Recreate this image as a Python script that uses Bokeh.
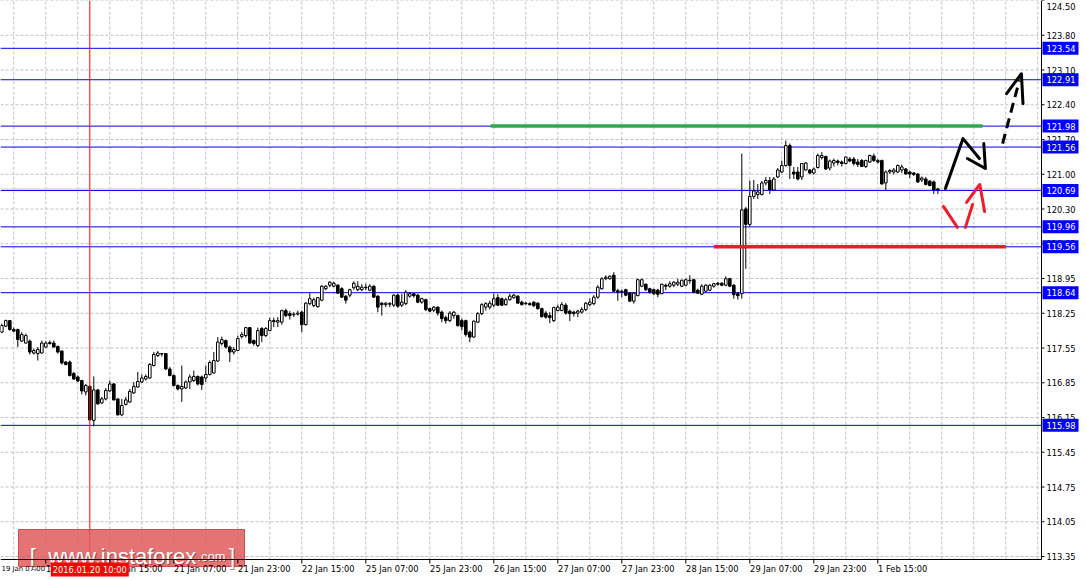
from bokeh.plotting import figure
from bokeh.models import Range1d, ColumnDataSource
from bokeh.core.properties import value
from bokeh.embed import file_html
from bokeh.resources import INLINE

# ---------------- data (USDJPY H1 candles, bar index 0..234) ----------------
opens = [117.85,117.97,118.08,117.90,117.90,117.67,117.63,117.67,117.43,117.42,
         117.43,117.55,117.64,117.63,117.56,117.47,117.25,117.25,117.02,116.95,
         116.88,116.65,116.76,116.08,116.69,116.43,116.51,116.67,116.81,116.51,
         116.19,116.40,116.45,116.63,116.75,116.85,116.91,116.93,117.18,117.38,
         117.42,117.42,117.11,116.98,116.78,116.71,116.73,116.85,116.88,116.96,
         116.95,116.93,117.00,117.03,117.27,117.62,117.68,117.55,117.45,117.48,
         117.76,117.78,117.94,117.68,117.58,117.92,117.78,117.88,118.08,118.05,
         118.05,118.28,118.22,118.20,118.21,118.25,118.00,118.42,118.38,118.36,
         118.49,118.72,118.79,118.77,118.79,118.72,118.57,118.59,118.74,118.70,
         118.70,118.75,118.69,118.77,118.57,118.43,118.40,118.42,118.39,118.59,
         118.39,118.42,118.57,118.62,118.59,118.45,118.50,118.32,118.29,118.35,
         118.25,118.14,118.08,118.18,118.18,118.08,118.08,117.85,117.75,118.05,
         118.22,118.35,118.35,118.39,118.54,118.52,118.40,118.50,118.54,118.57,
         118.45,118.43,118.42,118.45,118.43,118.32,118.23,118.18,118.08,118.28,
         118.28,118.39,118.27,118.25,118.23,118.25,118.30,118.40,118.42,118.55,
         118.72,118.92,118.92,118.99,118.68,118.67,118.70,118.63,118.47,118.58,
         118.77,118.81,118.72,118.70,118.69,118.62,118.79,118.77,118.79,118.81,
         118.77,118.79,118.89,118.90,118.69,118.61,118.67,118.69,118.77,118.83,
         118.83,118.79,118.92,118.79,118.62,118.62,120.32,120.01,120.57,120.61,
         120.61,120.84,120.89,120.70,120.96,121.06,121.19,121.59,121.06,121.06,
         120.96,121.10,121.10,121.04,121.15,121.35,121.37,121.14,121.24,121.28,
         121.26,121.23,121.32,121.32,121.26,121.29,121.17,121.26,121.38,121.29,
         121.29,120.84,121.06,121.06,121.06,121.10,121.12,121.06,121.04,121.02,
         120.90,120.92,120.88,120.86,120.72]
highs = [118.02,118.10,118.08,117.94,117.92,117.85,117.82,117.70,117.52,117.55,
         117.68,117.67,117.68,117.68,117.58,117.48,117.27,117.28,117.05,116.98,
         116.89,116.81,116.78,116.96,116.71,116.55,116.73,116.88,116.83,116.52,
         116.51,116.55,116.71,116.85,117.05,117.00,117.00,117.23,117.45,117.47,
         117.43,117.43,117.15,117.00,116.80,117.18,116.88,117.00,117.08,116.98,
         116.98,117.18,117.28,117.45,117.75,117.76,117.70,117.58,117.55,117.78,
         117.85,117.95,117.95,117.70,117.94,117.95,117.95,118.14,118.14,118.15,
         118.30,118.32,118.27,118.25,118.28,118.28,118.45,118.63,118.54,118.55,
         118.79,118.79,118.87,118.86,118.81,118.75,118.59,118.72,118.87,118.87,
         118.81,118.82,118.81,118.79,118.59,118.45,118.45,118.45,118.61,118.62,
         118.62,118.69,118.65,118.63,118.62,118.54,118.52,118.34,118.37,118.37,
         118.28,118.18,118.27,118.27,118.20,118.12,118.10,117.88,118.08,118.25,
         118.43,118.45,118.48,118.62,118.61,118.54,118.54,118.62,118.62,118.59,
         118.48,118.46,118.45,118.47,118.45,118.34,118.27,118.25,118.36,118.40,
         118.45,118.43,118.30,118.28,118.30,118.35,118.45,118.52,118.59,118.79,
         118.95,118.99,118.99,119.05,118.72,118.70,118.72,118.65,118.65,118.92,
         118.92,118.82,118.74,118.72,118.72,118.82,118.82,118.87,118.87,118.92,
         118.90,118.92,118.99,118.92,118.72,118.81,118.81,118.81,118.83,118.85,
         118.85,118.97,118.94,118.81,118.65,121.43,120.36,120.89,120.90,120.82,
         120.88,120.96,120.96,120.96,121.14,121.29,121.69,121.63,121.16,121.16,
         121.24,121.26,121.12,121.15,121.43,121.46,121.39,121.31,121.33,121.31,
         121.29,121.37,121.36,121.36,121.32,121.32,121.31,121.41,121.43,121.32,
         121.31,121.09,121.12,121.14,121.21,121.21,121.14,121.09,121.06,121.04,
         120.97,120.96,120.89,120.89,120.74]
lows = [117.83,117.95,117.88,117.85,117.55,117.65,117.62,117.40,117.40,117.28,
        117.42,117.54,117.60,117.54,117.42,117.20,117.18,116.96,116.89,116.85,
        116.60,116.58,116.08,115.96,116.40,116.41,116.48,116.65,116.48,116.18,
        116.17,116.38,116.43,116.61,116.73,116.83,116.88,116.91,117.16,117.35,
        117.36,117.09,116.96,116.76,116.68,116.45,116.71,116.71,116.85,116.78,
        116.69,116.85,116.98,117.02,117.25,117.58,117.52,117.25,117.40,117.47,
        117.72,117.74,117.62,117.58,117.55,117.65,117.75,117.87,117.95,117.95,
        118.00,118.15,118.10,118.15,118.18,117.85,117.98,118.39,118.35,118.34,
        118.47,118.69,118.75,118.75,118.62,118.54,118.42,118.55,118.70,118.67,
        118.67,118.69,118.67,118.54,118.25,118.18,118.35,118.35,118.35,118.34,
        118.35,118.39,118.54,118.54,118.43,118.42,118.27,118.25,118.25,118.18,
        118.05,118.02,118.05,118.12,117.96,117.88,117.76,117.65,117.74,118.03,
        118.19,118.28,118.30,118.35,118.37,118.37,118.38,118.48,118.52,118.42,
        118.38,118.39,118.38,118.35,118.30,118.14,118.12,118.03,118.05,118.27,
        118.27,118.20,118.07,118.16,118.15,118.22,118.27,118.37,118.39,118.52,
        118.70,118.89,118.90,118.65,118.48,118.55,118.57,118.45,118.42,118.57,
        118.75,118.67,118.62,118.59,118.55,118.61,118.69,118.74,118.75,118.77,
        118.75,118.77,118.82,118.63,118.62,118.59,118.65,118.67,118.74,118.78,
        118.77,118.77,118.75,118.52,118.50,118.52,119.12,119.97,120.52,120.52,
        120.59,120.79,120.62,120.68,120.94,121.04,121.17,120.92,120.92,120.89,
        120.90,121.09,121.01,121.01,121.13,121.31,121.10,121.09,121.17,121.19,
        121.17,121.21,121.26,121.19,121.16,121.16,121.14,121.24,121.26,121.23,
        120.81,120.70,121.02,121.01,121.04,121.04,121.01,120.94,120.98,120.84,
        120.86,120.79,120.77,120.62,120.62]
closes = [117.98,118.08,117.90,117.87,117.70,117.80,117.78,117.45,117.48,117.50,
          117.63,117.63,117.62,117.55,117.45,117.23,117.20,116.98,116.91,116.87,
          116.67,116.78,116.09,116.69,116.41,116.51,116.68,116.81,116.49,116.19,
          116.38,116.49,116.66,116.76,116.86,116.93,116.96,117.20,117.40,117.43,
          117.41,117.11,116.98,116.78,116.71,116.76,116.85,116.95,116.96,116.81,
          116.80,117.00,117.24,117.28,117.65,117.70,117.55,117.45,117.50,117.72,
          117.80,117.94,117.63,117.62,117.88,117.78,117.92,118.08,118.06,118.08,
          118.28,118.18,118.18,118.21,118.23,118.00,118.43,118.52,118.50,118.54,
          118.77,118.77,118.85,118.83,118.63,118.55,118.49,118.70,118.83,118.77,
          118.75,118.74,118.77,118.55,118.35,118.40,118.43,118.41,118.59,118.37,
          118.45,118.65,118.62,118.58,118.45,118.52,118.30,118.27,118.35,118.23,
          118.12,118.08,118.23,118.25,117.98,117.96,117.80,117.75,118.07,118.22,
          118.40,118.42,118.43,118.52,118.39,118.39,118.50,118.57,118.59,118.43,
          118.40,118.42,118.40,118.38,118.32,118.16,118.15,118.14,118.34,118.35,
          118.40,118.23,118.22,118.22,118.27,118.30,118.43,118.45,118.55,118.75,
          118.92,118.95,118.97,118.67,118.65,118.66,118.59,118.47,118.63,118.90,
          118.90,118.70,118.65,118.62,118.61,118.81,118.77,118.82,118.85,118.85,
          118.89,118.90,118.88,118.65,118.63,118.77,118.79,118.79,118.82,118.81,
          118.79,118.92,118.77,118.60,118.58,120.30,120.01,120.57,120.68,120.66,
          120.84,120.89,120.70,120.92,121.10,121.19,121.59,121.19,121.02,120.92,
          121.23,121.24,121.04,121.12,121.39,121.39,121.12,121.28,121.29,121.25,
          121.23,121.36,121.28,121.23,121.21,121.17,121.29,121.39,121.29,121.26,
          120.82,121.06,121.09,121.10,121.19,121.16,121.02,121.02,121.01,120.86,
          120.94,120.81,120.79,120.70,120.70]
bars = list(range(len(closes)))

# axis labels
x_tick_bars = [-5, 11, 27, 43, 59, 75, 91, 107, 123, 139, 155, 171, 187, 203, 219]
x_tick_labels = ["19 Jan 07:00", "19 Jan 23:00", "20 Jan 15:00", "21 Jan 07:00",
                 "21 Jan 23:00", "22 Jan 15:00", "25 Jan 07:00", "25 Jan 23:00",
                 "26 Jan 15:00", "27 Jan 07:00", "27 Jan 23:00", "28 Jan 15:00",
                 "29 Jan 07:00", "29 Jan 23:00", "1 Feb 15:00"]
y_tick_labels = ["113.35", "114.05", "114.75", "115.45", "116.15", "116.85", "117.55",
                 "118.25", "118.95", "119.65", "120.30", "121.00", "121.70", "122.40",
                 "123.10", "123.80", "124.50"]
y_tick_base = 113.35
y_tick_step = 0.6968

# horizontal levels
levels = [123.54, 122.91, 121.98, 121.56, 120.69, 119.96, 119.56, 118.64, 115.98]
crosshair_bar = 22
crosshair_text = "2016.01.20 10:00"

# drawn annotations (bar index, price)
green_x = [122.2, 245.2]
green_y = [121.98, 121.98]
red_x = [178.0, 251.0]
red_y = [119.56, 119.56]
blk1_x = [235.9, 240.3, 244.4]
blk1_y = [120.73, 121.73, 121.33]
blk1h_x = [241.4, 245.9, 245.5]
blk1h_y = [121.33, 121.13, 121.63]
blk2_x = [250.2, 254.4]
blk2_y = [121.63, 122.90]
blk2h_x = [251.2, 254.9, 255.3]
blk2h_y = [122.63, 123.03, 122.43]
red1_x = [235.4, 238.9]
red1_y = [120.37, 119.95]
red2_x = [240.9, 242.7]
red2_y = [119.95, 120.41]
red2h_x = [241.2, 244.5, 245.7]
red2h_y = [120.45, 120.81, 120.27]

# ---------------- geometry (one bar = 4 px, one price unit = 49.87 px) ----------------
BX = 0.25          # bars per pixel
PY = 1 / 49.87     # price per pixel
X0, X1 = -0.325, 271.175          # whole canvas in bar units
Y0, Y1 = 112.889, 124.499         # whole canvas in price units
XR = 259.925                      # right edge of chart area (price scale line)
YB = 113.29                       # bottom edge of chart area (time scale line)

FONT = value("DejaVu Sans")
FS = value("8.3px")

p = figure(width=1086, height=579, output_backend="svg", toolbar_location=None,
           x_range=Range1d(X0, X1), y_range=Range1d(Y0, Y1),
           x_axis_location=None, y_axis_location=None,
           min_border_left=0, min_border_top=0, min_border_right=0, min_border_bottom=0)
p.outline_line_color = None
p.background_fill_color = "white"
p.border_fill_color = "white"
p.xgrid.visible = False
p.ygrid.visible = False

GRID = dict(line_color="#c0c0c0", line_dash="3 2", line_width=1)
# vertical grid every 8 bars
gx = list(range(3, 260, 8))
p.segment(x0=gx, y0=[YB] * len(gx), x1=gx, y1=[Y1] * len(gx), **GRID)
# horizontal grid at price ticks
yt = [y_tick_base + j * y_tick_step for j in range(len(y_tick_labels))]
p.segment(x0=[X0] * len(yt), y0=yt, x1=[XR] * len(yt), y1=yt, **GRID)

# bid line and level lines
bid = closes[-1] + 0.02
p.segment(x0=[X0], y0=[bid], x1=[XR], y1=[bid], line_color="#c8c8c8", line_width=1)
p.segment(x0=[X0] * len(levels), y0=levels, x1=[XR] * len(levels), y1=levels,
          line_color="#0000ee", line_width=1)

# candles
src = ColumnDataSource(dict(
    x=bars,
    top=[max(o, c) for o, c in zip(opens, closes)],
    bottom=[min(o, c) for o, c in zip(opens, closes)],
    high=highs, low=lows,
    fill=["white" if c >= o else "black" for o, c in zip(opens, closes)]))
p.segment(x0="x", y0="high", x1="x", y1="low", source=src, line_color="black", line_width=1)
p.vbar(x="x", width=0.65, top="top", bottom="bottom", fill_color="fill",
       line_color="black", line_width=1, source=src)

# crosshair
p.segment(x0=[crosshair_bar], y0=[YB], x1=[crosshair_bar], y1=[Y1],
          line_color="#ff0000", line_width=1)

# drawn lines
p.line(green_x, green_y, line_color="#2ea84f", line_width=3.5)
p.line(red_x, red_y, line_color="#ee1c25", line_width=3.5)
for xs, ys in [(blk1_x, blk1_y), (blk1h_x, blk1h_y), (blk2h_x, blk2h_y)]:
    p.line(xs, ys, line_color="black", line_width=3, line_cap="round", line_join="round")
p.line(blk2_x, blk2_y, line_color="black", line_width=3, line_dash="10 6")
for xs, ys in [(red1_x, red1_y), (red2_x, red2_y), (red2h_x, red2h_y)]:
    p.line(xs, ys, line_color="#ee1c25", line_width=3, line_cap="round", line_join="round")

# watermark
p.quad(left=[4.175], right=[60.675], bottom=[YB - 7 * PY], top=[YB + 30 * PY],
       fill_color="#e05a5a", fill_alpha=0.85, line_color="#c44444", line_alpha=0.9)
wm_x = [7.0, 11.6, 48.9, 56.8]
wm_t = ["[", "www.instaforex", ".com", "]"]
wm_s = ["22px", "22px", "13px", "22px"]
for xx, tt, ss in zip(wm_x, wm_t, wm_s):
    p.text(x=[xx + BX], y=[113.35 - PY], text=[tt], text_align="left",
           text_baseline="alphabetic", text_color="#7a2626", text_alpha=0.6,
           text_font=value("Liberation Sans"), text_font_size=value(ss))
    p.text(x=[xx], y=[113.35], text=[tt], text_align="left", text_baseline="alphabetic",
           text_color="white", text_font=value("Liberation Sans"), text_font_size=value(ss))

# price scale: line, ticks, labels (top label nudged inside the canvas)
p.segment(x0=[XR], y0=[YB], x1=[XR], y1=[Y1], line_color="black", line_width=1)
p.segment(x0=[XR] * len(yt), y0=yt, x1=[XR + 3 * BX] * len(yt), y1=yt,
          line_color="black", line_width=1)
yt_lbl = [min(v, Y1 - 6 * PY) for v in yt]
p.text(x=[XR + 5 * BX] * len(yt), y=yt_lbl, text=y_tick_labels, text_align="left",
       text_baseline="middle", text_color="black", text_font=FONT, text_font_size=FS)

# time scale: line, ticks, labels (first label kept inside the canvas, slightly smaller)
p.segment(x0=[X0], y0=[YB], x1=[XR], y1=[YB], line_color="black", line_width=1)
p.segment(x0=x_tick_bars, y0=[YB] * len(x_tick_bars), x1=x_tick_bars,
          y1=[YB - 4 * PY] * len(x_tick_bars), line_color="black", line_width=1)
p.text(x=[X0 + 1 * BX], y=[YB - 9 * PY], text=[x_tick_labels[0]], text_align="left",
       text_baseline="middle", text_color="black", text_font=FONT, text_font_size=value("6.9px"))
p.text(x=[b + 0.3 * BX for b in x_tick_bars[1:]], y=[YB - 9 * PY] * (len(x_tick_bars) - 1),
       text=x_tick_labels[1:], text_align="left", text_baseline="middle",
       text_color="black", text_font=FONT, text_font_size=FS)

# price boxes on the scale
p.quad(left=[XR + 1 * BX] * len(levels), right=[XR + 37 * BX] * len(levels),
       bottom=[lv - 6.5 * PY for lv in levels], top=[lv + 6.5 * PY for lv in levels],
       fill_color="#0000ff", line_color=None)
p.text(x=[XR + 5 * BX] * len(levels), y=levels, text=[f"{lv:.2f}" for lv in levels],
       text_align="left", text_baseline="middle", text_color="white",
       text_font=FONT, text_font_size=FS)

# crosshair time box
p.quad(left=[crosshair_bar - 39 * BX], right=[crosshair_bar + 39 * BX],
       bottom=[YB - 17 * PY], top=[YB - 3 * PY], fill_color="#ff0000", line_color=None)
p.text(x=[crosshair_bar], y=[YB - 10 * PY], text=[crosshair_text], text_align="center",
       text_baseline="middle", text_color="white", text_font=FONT, text_font_size=FS)

open("out.html", "w").write(file_html(p, INLINE))
